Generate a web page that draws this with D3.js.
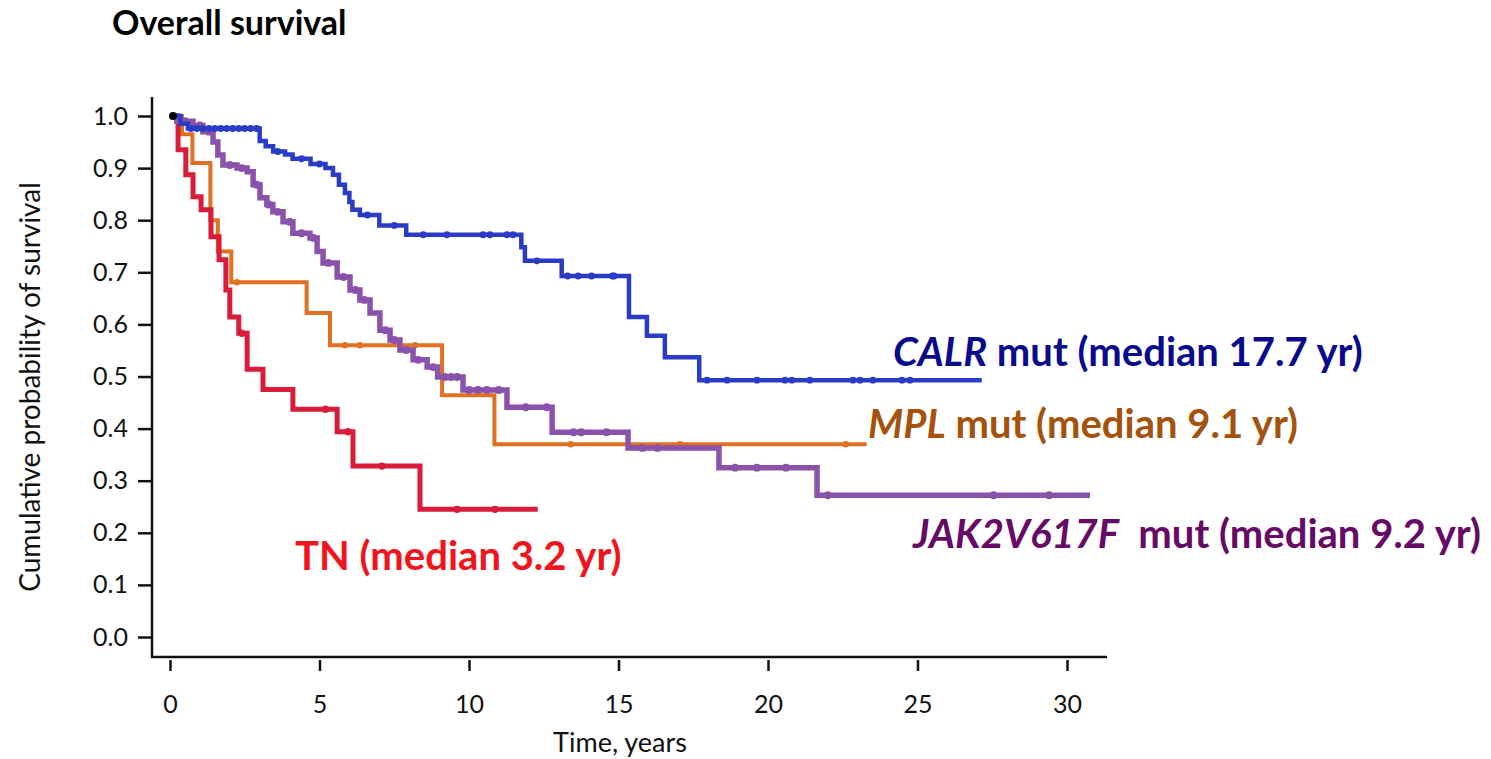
<!DOCTYPE html>
<html>
<head>
<meta charset="utf-8">
<script src="https://cdn.jsdelivr.net/npm/d3@7"></script>
<style>
  body { margin: 0; background: #fff; }
  svg { font-family: Lato, "Open Sans", sans-serif; }
</style>
</head>
<body>
<svg width="1491" height="759"></svg>
<script>
// Kaplan-Meier steps: time (years) and survival after each drop
var calrTime = [0, 0.35, 0.6, 3.0, 3.2, 3.45, 3.85, 4.1, 4.7, 5.2, 5.45, 5.65, 5.85, 6.0, 6.1, 6.35, 7.0, 7.9, 11.75, 11.87, 13.1, 15.35, 15.95, 16.55, 17.7];
var calrSurv = [1.0, 0.985, 0.976, 0.952, 0.942, 0.932, 0.926, 0.918, 0.908, 0.9, 0.887, 0.868, 0.852, 0.835, 0.82, 0.81, 0.79, 0.772, 0.748, 0.722, 0.693, 0.614, 0.578, 0.537, 0.493];
var calrEnd = 27.15;
var calrCensor = [0.7, 0.9, 1.1, 1.3, 1.5, 1.7, 1.9, 2.1, 2.3, 2.5, 2.7, 2.9, 3.6, 4.4, 5.0, 6.6, 7.5, 8.47, 9.26, 10.47, 10.7, 11.27, 11.47, 12.27, 13.3, 13.65, 14.1, 14.8, 14.85, 17.96, 18.63, 19.63, 20.57, 20.8, 21.4, 22.84, 23.08, 23.51, 24.48, 24.75];

var mplTime = [0, 0.4, 0.75, 1.35, 1.6, 2.05, 4.57, 5.35, 9.1, 10.85];
var mplSurv = [1.0, 0.965, 0.91, 0.8, 0.74, 0.681, 0.622, 0.56, 0.464, 0.37];
var mplEnd = 23.3;
var mplCensor = [2.24, 5.85, 6.35, 8.2, 13.4, 17.06, 22.6];

var jakTime = [0, 0.23, 0.77, 1.1, 1.44, 1.6, 1.77, 2.24, 2.58, 2.78, 3.01, 3.24, 3.44, 3.78, 4.11, 4.68, 4.92, 5.12, 5.59, 6.02, 6.35, 6.69, 7.02, 7.36, 7.69, 8.13, 8.6, 8.95, 9.8, 11.27, 12.78, 15.32, 18.36, 21.64];
var jakSurv = [1.0, 0.99, 0.982, 0.97, 0.95, 0.925, 0.906, 0.9, 0.893, 0.868, 0.843, 0.83, 0.816, 0.797, 0.775, 0.766, 0.74, 0.718, 0.691, 0.666, 0.647, 0.622, 0.589, 0.57, 0.551, 0.532, 0.518, 0.499, 0.474, 0.441, 0.393, 0.363, 0.325, 0.272];
var jakEnd = 30.77;
var jakCensor = [0.5, 1.0, 1.3, 2.0, 2.4, 2.9, 3.3, 3.6, 4.0, 4.4, 4.8, 5.3, 5.8, 6.2, 6.5, 7.2, 7.5, 7.9, 8.3, 8.8, 9.2, 9.4, 9.6, 10.0, 10.3, 10.6, 11.0, 11.9, 12.6, 13.5, 13.75, 14.6, 15.8, 16.3, 18.9, 19.63, 20.6, 22.0, 27.55, 29.4];

var tnTime = [0, 0.27, 0.53, 0.77, 1.04, 1.37, 1.64, 1.87, 2.0, 2.3, 2.58, 3.11, 4.11, 5.59, 6.12, 8.36];
var tnSurv = [1.0, 0.935, 0.887, 0.845, 0.82, 0.768, 0.724, 0.666, 0.614, 0.583, 0.514, 0.475, 0.437, 0.394, 0.328, 0.245];
var tnEnd = 12.3;
var tnCensor = [2.4, 5.2, 5.95, 7.09, 9.6, 10.87];

var yTicks = [0, 0.1, 0.2, 0.3, 0.4, 0.5, 0.6, 0.7, 0.8, 0.9, 1.0];
var xTicks = [0, 5, 10, 15, 20, 25, 30];

var series = [
  {name: "MPL", time: mplTime, surv: mplSurv, end: mplEnd, censor: mplCensor, color: "#e07122", width: 4},
  {name: "TN", time: tnTime, surv: tnSurv, end: tnEnd, censor: tnCensor, color: "#d81c3a", width: 5},
  {name: "JAK2", time: jakTime, surv: jakSurv, end: jakEnd, censor: jakCensor, color: "#8a52aa", width: 5.5},
  {name: "CALR", time: calrTime, surv: calrSurv, end: calrEnd, censor: calrCensor, color: "#2a3cc6", width: 4.5}
];

var svg = d3.select("svg");

var x = d3.scaleLinear().domain([0, 30]).range([170, 1067]);
var y = d3.scaleLinear().domain([0, 1]).range([637, 116]);

// axes
svg.append("line")
    .attr("x1", 152).attr("x2", 152).attr("y1", 97).attr("y2", 658)
    .attr("stroke", "#111").attr("stroke-width", 2.5);
svg.append("line")
    .attr("x1", 151).attr("x2", 1107).attr("y1", 657).attr("y2", 657)
    .attr("stroke", "#111").attr("stroke-width", 2.5);

function styleAxis(g) {
  g.select(".domain").remove();
  g.selectAll(".tick line").attr("stroke", "#111").attr("stroke-width", 2.5);
  g.selectAll(".tick text")
      .style("font-family", "Lato, 'Open Sans', sans-serif")
      .style("font-size", "25px")
      .attr("fill", "#111");
}

svg.append("g")
    .attr("transform", "translate(152,0)")
    .call(d3.axisLeft(y).tickValues(yTicks).tickFormat(d3.format(".1f")).tickSize(14).tickPadding(10))
    .call(styleAxis);

svg.append("g")
    .attr("transform", "translate(0,660)")
    .call(d3.axisBottom(x).tickValues(xTicks).tickSize(11).tickPadding(24))
    .call(styleAxis);

svg.append("text")
    .attr("transform", "translate(40,387) rotate(-90)")
    .attr("text-anchor", "middle")
    .style("font-size", "28px")
    .attr("fill", "#111")
    .text("Cumulative probability of survival");

svg.append("text")
    .attr("x", 620).attr("y", 752)
    .attr("text-anchor", "middle")
    .style("font-size", "27px")
    .attr("fill", "#111")
    .text("Time, years");

svg.append("text")
    .attr("x", 112).attr("y", 35)
    .style("font-size", "34px")
    .style("font-weight", "bold")
    .attr("fill", "#000")
    .text("Overall survival");

// curves
var line = d3.line()
    .x(function (d) { return x(d[0]); })
    .y(function (d) { return y(d[1]); })
    .curve(d3.curveStepAfter);

function survAt(s, t) {
  var v = s.surv[0];
  for (var i = 0; i < s.time.length; i++) {
    if (s.time[i] <= t) v = s.surv[i];
  }
  return v;
}

series.forEach(function (s) {
  var pts = s.time.map(function (t, i) { return [t, s.surv[i]]; });
  pts.push([s.end, s.surv[s.surv.length - 1]]);

  svg.append("path")
      .datum(pts)
      .attr("fill", "none")
      .attr("stroke", s.color)
      .attr("stroke-width", s.width)
      .attr("stroke-linejoin", "miter")
      .attr("d", line);

  svg.selectAll(".c" + s.name)
    .data(s.censor)
    .enter().append("circle")
      .attr("class", "c" + s.name)
      .attr("cx", function (d) { return x(d); })
      .attr("cy", function (d) { return y(survAt(s, d)); })
      .attr("r", s.width / 2 + 1.2)
      .attr("fill", s.color);
});

svg.append("circle")
    .attr("cx", x(0.1)).attr("cy", y(1.0)).attr("r", 4)
    .attr("fill", "#000");

// labels
var labels = [
  {it: "CALR", rest: " mut (median 17.7 yr)", x: 893, y: 366, color: "#0a0a8c"},
  {it: "MPL", rest: " mut (median 9.1 yr)", x: 868, y: 438, color: "#a4520c"},
  {it: "JAK2V617F", rest: "  mut (median 9.2 yr)", x: 913, y: 548, color: "#660a66"},
  {it: "", rest: "TN (median 3.2 yr)", x: 295, y: 570, color: "#f2141c"}
];

labels.forEach(function (l) {
  var t = svg.append("text")
      .attr("x", l.x).attr("y", l.y)
      .attr("fill", l.color)
      .attr("xml:space", "preserve")
      .style("font-size", "40px")
      .style("font-weight", "bold");
  if (l.it) t.append("tspan").style("font-style", "italic").text(l.it);
  t.append("tspan").text(l.rest);
});
</script>
</body>
</html>
